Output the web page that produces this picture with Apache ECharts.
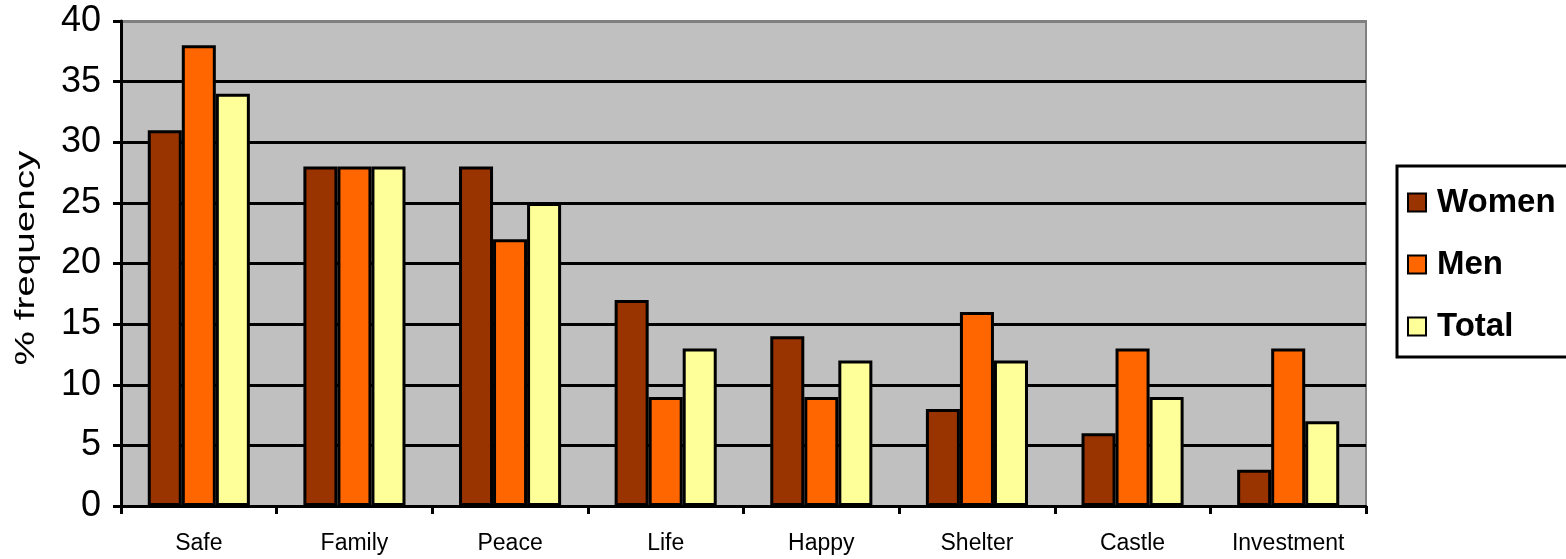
<!DOCTYPE html>
<html>
<head>
<meta charset="utf-8">
<script src="https://cdn.jsdelivr.net/npm/echarts@6/dist/echarts.min.js"></script>
<style>
  html, body { margin: 0; padding: 0; background: #fff; }
  #chart { width: 1566px; height: 559px; }
</style>
</head>
<body>
<div id="chart"></div>
<script>
// Word associations with "home", % frequency by group
const categories = ['Safe', 'Family', 'Peace', 'Life', 'Happy', 'Shelter', 'Castle', 'Investment'];
const women = [31, 28, 28, 17, 14, 8, 6, 3];
const men   = [38, 28, 22, 9, 9, 16, 13, 13];
const total = [34, 28, 25, 13, 12, 12, 9, 7];
const seriesNames = ['Women', 'Men', 'Total'];
const seriesColors = ['#993300', '#FF6600', '#FFFF99'];
const yTicks = { min: 0, max: 40, step: 5 };
const yAxisTitle = '% frequency';

const FONT = '"Liberation Sans", Arial, sans-serif';

const chart = echarts.init(document.getElementById('chart'), null, { renderer: 'canvas' });

// gridline colours: black, except the top edge of the plot area which is grey
const nLines = (yTicks.max - yTicks.min) / yTicks.step + 1;
const splitColors = [];
for (let i = 0; i < nLines; i++) splitColors.push(i === nLines - 1 ? '#808080' : '#000000');

const values = [women, men, total];
const series = seriesNames.map((name, i) => ({
  name: name,
  type: 'bar',
  data: values[i],
  barGap: '0%',
  barCategoryGap: '34.4%',
  itemStyle: { color: seriesColors[i], borderColor: '#000', borderWidth: 3 },
  emphasis: { disabled: true },
  animation: false
}));

chart.setOption({
  animation: false,
  grid: {
    left: 121, right: 200, top: 21, bottom: 53,
    show: true,
    backgroundColor: '#C0C0C0',
    borderColor: '#808080',
    borderWidth: 2
  },
  legend: {
    orient: 'vertical',
    left: 1397,
    top: 166,
    padding: [20, 22, 14, 10],
    itemGap: 29,
    itemWidth: 18,
    itemHeight: 18,
    backgroundColor: '#fff',
    borderColor: '#000',
    borderWidth: 3,
    icon: 'rect',
    itemStyle: { borderColor: '#000', borderWidth: 2 },
    textStyle: { fontFamily: FONT, fontSize: 33, fontWeight: 'bold', color: '#000', padding: [0, 0, 0, 6] },
    data: seriesNames
  },
  // vertical axis title, drawn as text rotated along the axis
  graphic: [{
    type: 'text',
    x: 26,
    y: 258,
    rotation: Math.PI / 2,
    scaleX: 1.38,
    style: {
      text: yAxisTitle,
      font: '28px ' + FONT,
      fill: '#000',
      align: 'center',
      verticalAlign: 'middle'
    },
    silent: true
  }],
  xAxis: {
    type: 'category',
    data: categories,
    axisLine: { lineStyle: { color: '#000', width: 3 } },
    axisTick: { show: true, length: 8, lineStyle: { color: '#000', width: 3 } },
    axisLabel: { interval: 0, fontFamily: FONT, fontSize: 23, color: '#000', margin: 26 },
    splitLine: { show: false }
  },
  yAxis: {
    type: 'value',
    min: yTicks.min,
    max: yTicks.max,
    interval: yTicks.step,
    axisLine: { show: true, lineStyle: { color: '#000', width: 3 } },
    axisTick: { show: true, length: 8, lineStyle: { color: '#000', width: 3 } },
    axisLabel: { fontFamily: FONT, fontSize: 36, color: '#000', margin: 20 },
    splitLine: { show: true, lineStyle: { color: splitColors, width: 3 } }
  },
  series: series
});
</script>
</body>
</html>
